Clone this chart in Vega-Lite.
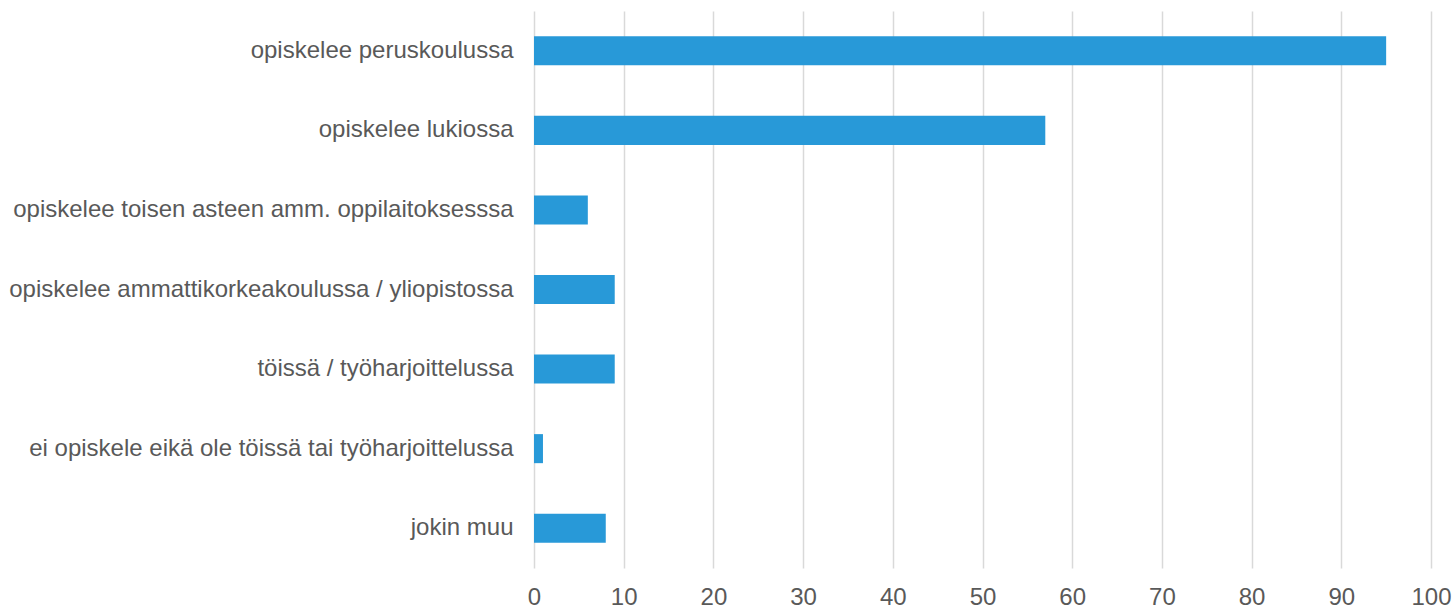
{
  "$schema": "https://vega.github.io/schema/vega-lite/v6.json",
  "autosize": "none",
  "width": 897,
  "height": 557,
  "padding": {"left": 534, "top": 11, "right": 25, "bottom": 41},
  "background": "white",
  "config": {"view": {"stroke": null}, "font": "Liberation Sans"},
  "data": {
    "values": [
      {"category": "opiskelee peruskoulussa", "value": 95},
      {"category": "opiskelee lukiossa", "value": 57},
      {"category": "opiskelee toisen asteen amm. oppilaitoksesssa", "value": 6},
      {"category": "opiskelee ammattikorkeakoulussa / yliopistossa", "value": 9},
      {"category": "töissä / työharjoittelussa", "value": 9},
      {"category": "ei opiskele eikä ole töissä tai työharjoittelussa", "value": 1},
      {"category": "jokin muu", "value": 8}
    ]
  },
  "mark": {"type": "bar", "color": "#2899d8"},
  "encoding": {
    "y": {
      "field": "category",
      "type": "nominal",
      "sort": null,
      "scale": {"paddingInner": 0.635, "paddingOuter": 0.3175},
      "axis": {
        "title": null,
        "domain": false,
        "ticks": false,
        "grid": false,
        "labelPadding": 21,
        "labelFontSize": 24,
        "labelColor": "#595959",
        "labelLimit": 600
      }
    },
    "x": {
      "field": "value",
      "type": "quantitative",
      "scale": {"domain": [0, 100], "nice": false},
      "axis": {
        "title": null,
        "domain": false,
        "ticks": false,
        "values": [0, 10, 20, 30, 40, 50, 60, 70, 80, 90, 100],
        "gridColor": "#d9d9d9",
        "gridWidth": 1.5,
        "labelPadding": 17,
        "labelFontSize": 24,
        "labelColor": "#595959",
        "labelBaseline": "top",
        "labelFlush": false,
        "labelOverlap": false,
        "labelBound": false
      }
    }
  }
}
